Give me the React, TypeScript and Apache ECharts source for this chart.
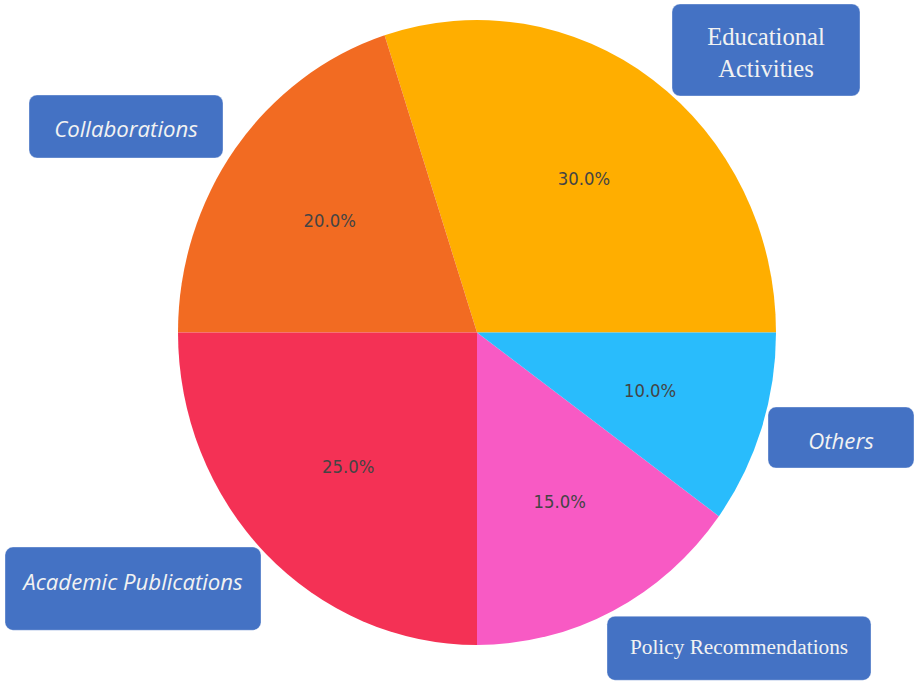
import React, { useEffect, useRef } from "react";
import * as echarts from "echarts";

const categories = [
  "Educational Activities",
  "Collaborations",
  "Academic Publications",
  "Policy Recommendations",
  "Others",
];
const values = [30, 20, 25, 15, 10];
const colors = ["#FFAE00", "#F26B22", "#F43155", "#F85AC4", "#29BCFC"];

// annotation box layout (screen pixels)
const boxLayout = [
  { x: 672, y: 4, w: 188, h: 92, ty: 52.5, family: "Liberation Serif", style: "normal", size: 24.6, lines: 2, lh: 31.5 },
  { x: 29, y: 95, w: 194, h: 63, ty: 128.5, family: "Open Sans", style: "italic", size: 22.2, lines: 1, lh: 24 },
  { x: 5, y: 547, w: 256, h: 83, ty: 581.5, family: "Open Sans", style: "italic", size: 22.2, lines: 1, lh: 24 },
  { x: 607, y: 616, w: 264, h: 64, ty: 647, family: "Liberation Serif", style: "normal", size: 21.3, lines: 1, lh: 24 },
  { x: 768, y: 407, w: 146, h: 61, ty: 440.5, family: "Open Sans", style: "italic", size: 22.2, lines: 1, lh: 24 },
];

const K = 312.5 / 299; // vertical stretch of the pie
const W = 915;
const H = 682;

export default function App() {
  const ref = useRef<HTMLDivElement>(null);
  useEffect(() => {
    if (!ref.current) return;
    const chart = echarts.init(ref.current, null, { renderer: "svg" });
    const data = categories.map((c, i) => ({
      name: c,
      value: values[i],
      itemStyle: { color: colors[i] },
    }));
    const center = [477, 332.5 / K];
    const graphics = categories.map((c, i) => {
      const b = boxLayout[i];
      const text = b.lines === 2 ? c.replace(" ", "\n") : c;
      return {
        type: "group",
        children: [
          {
            type: "rect",
            shape: { x: b.x, y: b.y, width: b.w, height: b.h, r: 8 },
            style: { fill: "#4472C4", stroke: "rgba(255,255,255,0.35)", lineWidth: 1 },
          },
          {
            type: "text",
            x: b.x + b.w / 2,
            y: b.ty,
            style: {
              text,
              fill: "#F2F2F2",
              fontFamily: b.family,
              fontStyle: b.style,
              fontSize: b.size,
              lineHeight: b.lh,
              align: "center",
              verticalAlign: "middle",
            },
          },
        ],
      };
    });
    chart.setOption({
      animation: false,
      series: [
        {
          type: "pie",
          radius: [0, 299],
          center,
          startAngle: 0,
          clockwise: false,
          silent: true,
          label: { show: false },
          labelLine: { show: false },
          itemStyle: { borderWidth: 0 },
          data,
        },
        {
          type: "pie",
          radius: [59, 299],
          center,
          startAngle: 0,
          clockwise: false,
          silent: true,
          itemStyle: { color: "transparent", borderWidth: 0 },
          label: {
            show: true,
            position: "inside",
            color: "#444",
            fontSize: 16.5,
            fontFamily: "DejaVu Sans",
            formatter: (p: any) => p.percent.toFixed(1) + "%",
          },
          labelLine: { show: false },
          data: categories.map((c, i) => ({ name: c, value: values[i] })),
        },
      ],
      graphic: [
        {
          type: "group",
          x: 0,
          y: 0,
          scaleY: 1 / K,
          children: graphics,
        },
      ],
    });
    return () => chart.dispose();
  }, []);
  return (
    <div
      style={{
        position: "fixed",
        left: 0,
        top: 0,
        width: W,
        height: H,
        overflow: "hidden",
        background: "#fff",
      }}
    >
      <div
        ref={ref}
        style={{
          width: W,
          height: H / K,
          transform: `scaleY(${K})`,
          transformOrigin: "0 0",
        }}
      />
    </div>
  );
}
